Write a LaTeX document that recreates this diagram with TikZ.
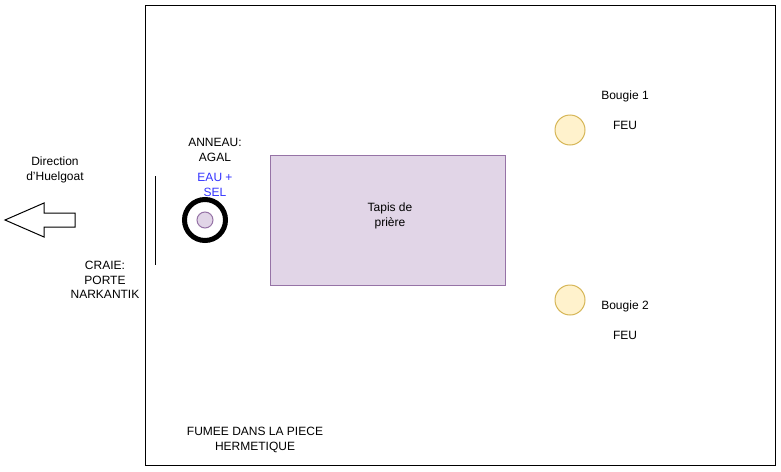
\documentclass[tikz,border=0pt]{standalone}
\usepackage{fontspec}
\setmainfont{Liberation Sans}
\setsansfont{Liberation Sans}
\usetikzlibrary{positioning, calc}
\definecolor{cpurple}{HTML}{9673A6}
\definecolor{cpurplefill}{HTML}{E1D5E7}
\definecolor{cyellow}{HTML}{D6B656}
\definecolor{cyellowfill}{HTML}{FFF2CC}
\definecolor{cblue}{HTML}{3333FF}
\tikzset{
  every picture/.style={font=\sffamily\fontsize{12}{14.5}\selectfont, line width=1pt},
  label/.style={align=center, inner sep=0pt},
  bougie/.style={circle, draw=cyellow, fill=cyellowfill, minimum size=30pt, inner sep=0pt},
  tapis/.style={draw=cpurple, fill=cpurplefill, minimum width=235pt, minimum height=130pt},
}

\begin{document}
\begin{tikzpicture}[x=1pt, y=-1pt]
  \useasboundingbox (0,0) rectangle (781,471);
  % la piece
  \node[draw, minimum width=630pt, minimum height=460pt, inner sep=0pt] (piece) at (460.5,235.5) {};
  % fleche vers Huelgoat
  \draw[fill=white] (5,220) -- (44,203) -- (44,213) -- (75,213) -- (75,227) -- (44,227) -- (44,237) -- cycle;
  \node[label] (direction) at (55,170) {Direction\\d'Huelgoat};
  % porte
  \draw (155.5,176) -- (155.5,265);
  \node[label] (craie) at (105,280) {CRAIE:\\PORTE\\NARKANTIK};
  % anneau
  \node[circle, draw, line width=5pt, minimum size=41pt, inner sep=0pt] (anneau) at (205,220) {};
  \node[circle, draw=cpurple, fill=cpurplefill, minimum size=16pt, inner sep=0pt] (sel) at (anneau.center) {};
  \node[label] (agal) at (215,150) {ANNEAU:\\AGAL};
  \node[label, text=cblue] (eau) at (215,185) {EAU +\\SEL};
  % tapis
  \node[tapis] (tapis) at (388,220.5) {};
  \node[label] (priere) at (390,216) {Tapis de\\prière};
  % bougies
  \node[bougie] (b1) at (570,130) {};
  \node[bougie] (b2) at (570,300) {};
  \node[label] (nb1) at (625,96) {Bougie 1};
  \node[label] (feu1) at (625,125) {FEU};
  \node[label] (nb2) at (625,306) {Bougie 2};
  \node[label] (feu2) at (625,335) {FEU};
  \node[label] (fumee) at (255,440) {FUMEE DANS LA PIECE\\HERMETIQUE};
\end{tikzpicture}
\end{document}
